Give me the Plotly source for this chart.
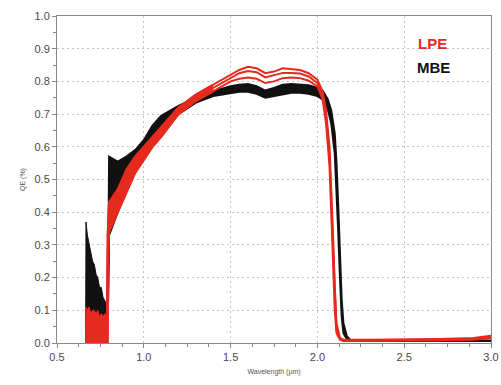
import plotly.graph_objects as go

# ---------------- data ----------------
# short-wavelength noisy region (filled blocks)
wl_noise = [0.665, 0.667, 0.675, 0.685, 0.695, 0.705, 0.715, 0.725, 0.735, 0.745, 0.755, 0.765, 0.775, 0.785, 0.788]
mbe_noise = [0.00, 0.37, 0.33, 0.30, 0.28, 0.25, 0.24, 0.21, 0.20, 0.17, 0.17, 0.14, 0.13, 0.12, 0.00]
lpe_noise = [0.00, 0.11, 0.10, 0.11, 0.09, 0.10, 0.10, 0.09, 0.10, 0.08, 0.09, 0.08, 0.09, 0.08, 0.00]

# LPE curves
wl_lpe = [0.790, 0.792, 0.80, 0.85, 0.90, 0.95, 1.00, 1.05, 1.10, 1.20, 1.30, 1.40, 1.50, 1.55,
          1.60, 1.65, 1.70, 1.75, 1.80, 1.85, 1.90, 1.95, 2.00, 2.03, 2.05, 2.07, 2.08, 2.09,
          2.10, 2.11, 2.13, 2.15, 2.30, 2.50, 2.70, 2.90, 2.95, 3.00]
lpe_a = [0.00, 0.33, 0.43, 0.47, 0.53, 0.57, 0.60, 0.63, 0.66, 0.72, 0.76, 0.79, 0.82, 0.835,
         0.845, 0.840, 0.825, 0.830, 0.840, 0.838, 0.835, 0.825, 0.805, 0.770, 0.710, 0.600, 0.480, 0.330,
         0.170, 0.060, 0.015, 0.010, 0.010, 0.010, 0.012, 0.015, 0.018, 0.022]
lpe_b = [0.00, 0.28, 0.39, 0.44, 0.50, 0.55, 0.58, 0.62, 0.65, 0.71, 0.75, 0.78, 0.81, 0.825,
         0.832, 0.828, 0.812, 0.818, 0.826, 0.826, 0.824, 0.815, 0.795, 0.755, 0.690, 0.570, 0.440, 0.290,
         0.130, 0.040, 0.012, 0.008, 0.008, 0.009, 0.010, 0.012, 0.015, 0.018]
lpe_c = [0.00, 0.22, 0.34, 0.40, 0.46, 0.52, 0.56, 0.60, 0.63, 0.70, 0.74, 0.77, 0.80, 0.808,
         0.812, 0.808, 0.795, 0.800, 0.810, 0.812, 0.810, 0.802, 0.785, 0.745, 0.670, 0.540, 0.400, 0.250,
         0.100, 0.030, 0.010, 0.006, 0.006, 0.007, 0.008, 0.010, 0.012, 0.015]
n_rise = 12  # the rising part (up to 1.4 µm) where the LPE curves form one solid band

# MBE band (upper / lower envelope)
wl_mbe = [0.794, 0.796, 0.80, 0.85, 0.90, 0.95, 1.00, 1.05, 1.10, 1.20, 1.30, 1.40, 1.50, 1.55,
          1.60, 1.65, 1.70, 1.75, 1.80, 1.85, 1.90, 1.95, 2.00, 2.03, 2.06, 2.08, 2.10, 2.11,
          2.12, 2.13, 2.14, 2.15, 2.17, 2.19, 2.30, 2.50, 2.70, 2.90, 3.00]
mbe_hi = [0.12, 0.57, 0.57, 0.555, 0.57, 0.59, 0.62, 0.665, 0.695, 0.725, 0.75, 0.77, 0.785, 0.79,
          0.792, 0.785, 0.772, 0.78, 0.79, 0.792, 0.79, 0.788, 0.78, 0.772, 0.745, 0.71, 0.64, 0.55,
          0.42, 0.27, 0.13, 0.06, 0.02, 0.01, 0.008, 0.008, 0.008, 0.008, 0.008]
mbe_lo = [0.12, 0.30, 0.33, 0.40, 0.47, 0.53, 0.57, 0.61, 0.65, 0.70, 0.735, 0.755, 0.765, 0.768,
          0.768, 0.762, 0.750, 0.755, 0.762, 0.765, 0.765, 0.762, 0.755, 0.745, 0.715, 0.67, 0.58, 0.48,
          0.34, 0.20, 0.08, 0.03, 0.012, 0.008, 0.006, 0.006, 0.006, 0.006, 0.006]

x_ticks = [0.5, 1.0, 1.5, 2.0, 2.5, 3.0]
y_ticks = [0.0, 0.1, 0.2, 0.3, 0.4, 0.5, 0.6, 0.7, 0.8, 0.9, 1.0]

RED = "#e52a1e"
BLACK = "#111111"
FONT = "Liberation Sans, Arial"

fig = go.Figure()

# MBE noisy block
fig.add_trace(go.Scatter(x=wl_noise, y=mbe_noise, mode="lines", fill="tozeroy",
                         line=dict(color=BLACK, width=1), fillcolor=BLACK, showlegend=False))
# MBE band
fig.add_trace(go.Scatter(x=wl_mbe, y=mbe_lo, mode="lines",
                         line=dict(color=BLACK, width=2), showlegend=False))
fig.add_trace(go.Scatter(x=wl_mbe, y=mbe_hi, mode="lines", fill="tonexty", fillcolor=BLACK,
                         line=dict(color=BLACK, width=2), showlegend=False))
# LPE noisy block
fig.add_trace(go.Scatter(x=wl_noise, y=lpe_noise, mode="lines", fill="tozeroy",
                         line=dict(color=RED, width=1), fillcolor=RED, showlegend=False))
# LPE solid band in the rising part
fig.add_trace(go.Scatter(x=wl_lpe[:n_rise], y=lpe_c[:n_rise], mode="lines",
                         line=dict(color=RED, width=2), showlegend=False))
fig.add_trace(go.Scatter(x=wl_lpe[:n_rise], y=lpe_a[:n_rise], mode="lines", fill="tonexty",
                         fillcolor=RED, line=dict(color=RED, width=2), showlegend=False))
# LPE curves
for ys in (lpe_c, lpe_b, lpe_a):
    fig.add_trace(go.Scatter(x=wl_lpe, y=ys, mode="lines",
                             line=dict(color=RED, width=2), showlegend=False))

fig.add_annotation(x=0.866, y=0.917, xref="paper", yref="paper", text="<b>LPE</b>",
                   xanchor="center", yanchor="middle",
                   showarrow=False, font=dict(family=FONT, size=15, color=RED))
fig.add_annotation(x=0.868, y=0.841, xref="paper", yref="paper", text="<b>MBE</b>",
                   xanchor="center", yanchor="middle",
                   showarrow=False, font=dict(family=FONT, size=15, color=BLACK))

axis_common = dict(showline=True, linecolor="#888888", linewidth=1, mirror=True,
                   ticks="outside", ticklen=4, tickcolor="#888888",
                   showgrid=True, gridcolor="#c4c4c4", griddash="2px,3px", gridwidth=1,
                   zeroline=False, automargin=False,
                   tickfont=dict(family=FONT, size=11, color="#4a4a4a"))

fig.update_xaxes(range=[0.5, 3.0], tickvals=x_ticks, ticktext=[f"{v:.1f}" for v in x_ticks],
                 minor=dict(dtick=0.125, ticklen=3, ticks="outside", tickcolor="#888888", showgrid=False),
                 title=dict(text="Wavelength (µm)", font=dict(size=7, color="#555555"), standoff=6),
                 **axis_common)
fig.update_yaxes(range=[0.0, 1.0], tickvals=y_ticks, ticktext=[f"{v:.1f}" for v in y_ticks],
                 minor=dict(dtick=0.05, ticklen=3, ticks="outside", tickcolor="#888888", showgrid=False),
                 title=dict(text="QE (%)", font=dict(size=7, color="#555555"), standoff=8),
                 **axis_common)

fig.update_layout(width=501, height=385, margin=dict(l=57, r=10, t=16, b=42),
                  plot_bgcolor="white", paper_bgcolor="white",
                  font=dict(family=FONT))

fig.write_html("out.html")
